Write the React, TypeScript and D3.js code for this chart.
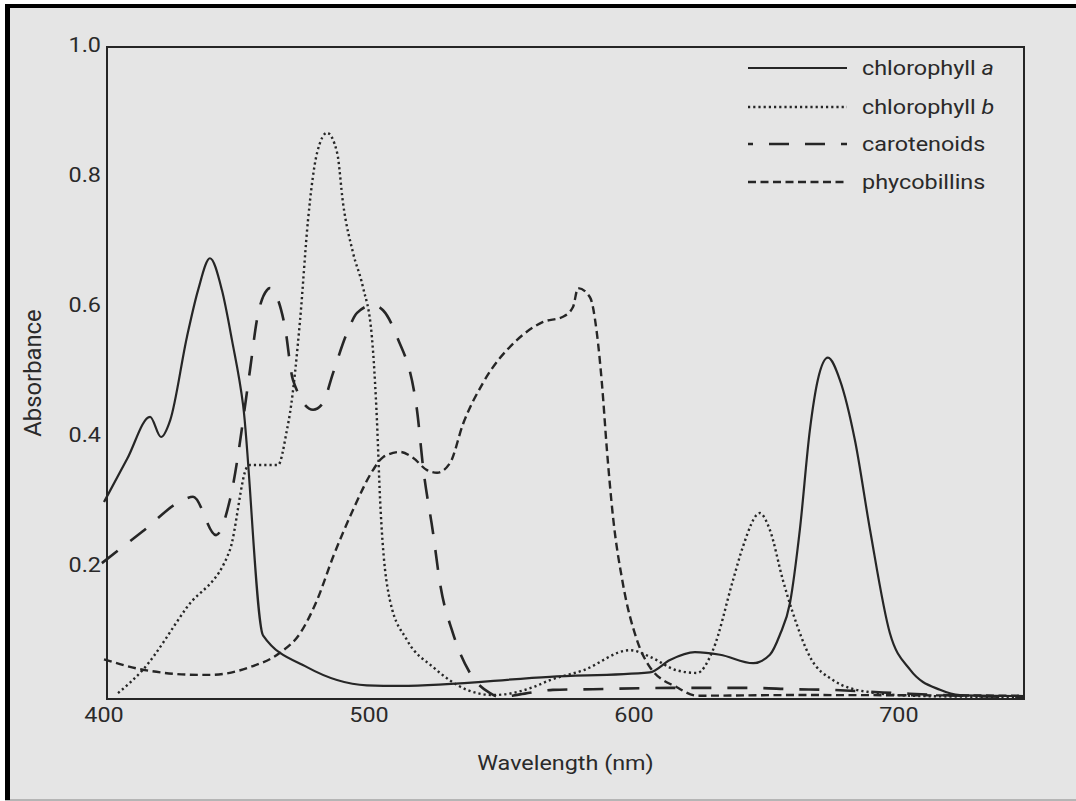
import React from "react";
import * as d3 from "d3";

// Absorption spectra: [wavelength (nm), absorbance]
const chlorophyllA: [number, number][] = [
  [400, 0.3], [408.7, 0.366], [417.4, 0.431], [421.5, 0.4], [425, 0.426], [431.3, 0.554], [435.5, 0.626],
  [440, 0.675], [444.5, 0.626], [448.3, 0.549], [452.5, 0.449], [460, 0.095], [476.6, 0.046],
  [499.2, 0.018], [511.7, 0.017], [568.3, 0.031], [606, 0.038], [613.6, 0.057], [623, 0.069],
  [632.5, 0.065], [645, 0.052], [651.3, 0.065], [655, 0.095], [658.9, 0.145], [662.6, 0.257],
  [666.4, 0.411], [669.4, 0.488], [673.2, 0.522], [677.7, 0.488], [683.4, 0.395], [689.1, 0.257],
  [696.6, 0.098], [704.2, 0.042], [715.5, 0.011], [723, 0.003], [747, 0.0015],
];

const chlorophyllB: [number, number][] = [
  [405.3, 0.006], [414.7, 0.042], [431.3, 0.138], [447.5, 0.226], [454, 0.354], [455.1, 0.357],
  [465.7, 0.357], [469, 0.41], [470.2, 0.437], [474, 0.58], [477, 0.734], [480.4, 0.837],
  [484.2, 0.868], [488, 0.837], [490.2, 0.76], [494, 0.683], [497.7, 0.631], [501.1, 0.554],
  [503, 0.426], [504.2, 0.303], [507.9, 0.149], [514.3, 0.088], [524.2, 0.046], [537, 0.011],
  [546.8, 0.003], [561.9, 0.015], [568.3, 0.026], [580.8, 0.041], [598.5, 0.072], [606, 0.062],
  [616.2, 0.041], [623.8, 0.037], [629.8, 0.072], [637.4, 0.18], [641.1, 0.231], [647.5, 0.283],
  [651.3, 0.257], [656.2, 0.18], [660, 0.129], [666.4, 0.062], [675.1, 0.026], [688, 0.008],
  [708, 0.0015], [747, 0],
];

const carotenoids: [number, number][] = [
  [399.2, 0.206], [414.5, 0.2545], [429.8, 0.303], [433.6, 0.308], [442.3, 0.249], [447.5, 0.303], [455.1, 0.503],
  [457.7, 0.58], [461.5, 0.626], [462.6, 0.629], [465.3, 0.615], [468.3, 0.569], [471.3, 0.488],
  [478.9, 0.442], [482.6, 0.452], [486.4, 0.498], [491.7, 0.56], [495.5, 0.591], [501.5, 0.603],
  [505.3, 0.595], [510.6, 0.554], [518.1, 0.442], [520.4, 0.354], [524.2, 0.252], [526.8, 0.175],
  [531.7, 0.098], [538.1, 0.037], [545.7, 0.006], [549.4, 0], [557, 0.004], [569.4, 0.011],
  [584.5, 0.012], [614.7, 0.014], [644.9, 0.014], [659.6, 0.012], [674, 0.011], [689, 0.008],
  [704, 0.005], [723, 0.002], [747, 0],
];

const phycobilins: [number, number][] = [
  [400, 0.058], [414.7, 0.042], [436.2, 0.034], [440, 0.034], [455.1, 0.046], [466.4, 0.068],
  [474, 0.098], [480.4, 0.149], [486.4, 0.215], [494, 0.288], [501.5, 0.349], [505.3, 0.369],
  [511.7, 0.377], [516.6, 0.368], [521.9, 0.349], [525.7, 0.345], [530.6, 0.36], [535.5, 0.42],
  [543, 0.483], [555.8, 0.549], [565.7, 0.577], [573.2, 0.585], [577, 0.6], [578.9, 0.629],
  [583.4, 0.615], [586, 0.56], [587.9, 0.483], [589.8, 0.38], [592.1, 0.277], [595.8, 0.175],
  [601.1, 0.088], [606, 0.046], [616.2, 0.015], [623.8, 0.002], [660, 0.003], [747, 0.002],
];

const xTicks = [400, 500, 600, 700];
const yTicks = [0.2, 0.4, 0.6, 0.8, 1.0];

const W = 1076;
const H = 801;
const frame = { left: 107, top: 47, right: 1024, bottom: 699 };
const ink = "#262626";
const textInk = "#2a2a2a";
const font = "Roboto, 'Noto Sans', sans-serif";
const stretch = 1.17;

export default function App() {
  const x = d3.scaleLinear().domain([400, 747.2]).range([104, frame.right]);
  const y = d3.scaleLinear().domain([0, 1]).range([697, 47]);
  const line = d3
    .line<[number, number]>()
    .x((d) => x(d[0]))
    .y((d) => y(d[1]))
    .curve(d3.curveMonotoneX);

  const series = [
    { label: "chlorophyll ", italic: "a", data: chlorophyllA, dash: undefined, width: 2.2 },
    { label: "chlorophyll ", italic: "b", data: chlorophyllB, dash: "2.2 3", width: 2.4 },
    { label: "carotenoids", italic: "", data: carotenoids, dash: "20 16", width: 2.6 },
    { label: "phycobillins", italic: "", data: phycobilins, dash: "8 4.5", width: 2.4 },
  ];
  const legendRows = [68, 107, 144, 182];

  return (
    <svg
      width={W}
      height={H}
      style={{ position: "absolute", left: 0, top: 0, display: "block" }}
      fontFamily={font}
    >
      <rect x={0} y={0} width={W} height={H} fill="#fff" />
      <rect x={5} y={4} width={W - 5} height={796} fill="#e5e5e5" />
      <rect x={5} y={799} width={W - 5} height={2} fill="#b5b5b5" />
      <rect x={5} y={4} width={W - 5} height={4} fill="#000" />
      <rect x={5} y={4} width={5} height={796} fill="#000" />

      {/* plot frame */}
      <rect
        x={frame.left}
        y={frame.top}
        width={frame.right - frame.left}
        height={frame.bottom - frame.top}
        fill="none"
        stroke={ink}
        strokeWidth={2}
      />

      {/* spectra */}
      {series.map((s, i) => (
        <path
          key={i}
          d={line(s.data) || ""}
          fill="none"
          stroke={ink}
          strokeWidth={s.width}
          strokeDasharray={s.dash}
          strokeLinejoin="round"
        />
      ))}

      {/* y tick labels */}
      {yTicks.map((t) => (
        <g key={t} transform={`translate(101,${y(t) - 2}) scale(${stretch},1)`}>
          <text textAnchor="end" dy="0.35em" fontSize={20} fill={textInk}>
            {t.toFixed(1)}
          </text>
        </g>
      ))}

      {/* x tick labels */}
      {xTicks.map((t) => (
        <g key={t} transform={`translate(${x(t)},715) scale(${stretch},1)`}>
          <text textAnchor="middle" dy="0.35em" fontSize={20} fill={textInk}>
            {t}
          </text>
        </g>
      ))}

      {/* axis titles */}
      <g transform={`translate(${(frame.left + frame.right) / 2},763) scale(${stretch},1)`}>
        <text textAnchor="middle" dy="0.35em" fontSize={20} fill={textInk}>
          Wavelength (nm)
        </text>
      </g>
      <g transform={`translate(33,${(frame.top + frame.bottom) / 2}) rotate(-90) scale(1.19,${stretch})`}>
        <text textAnchor="middle" dy="0.35em" fontSize={20} fill={textInk}>
          Absorbance
        </text>
      </g>

      {/* legend */}
      {series.map((s, i) => (
        <g key={i}>
          <line
            x1={748}
            x2={847}
            y1={legendRows[i]}
            y2={legendRows[i]}
            stroke={ink}
            strokeWidth={s.width}
            strokeDasharray={s.dash}
            strokeDashoffset={s.dash === "20 16" ? 15 : 0}
          />
          <g transform={`translate(862,${legendRows[i]}) scale(${stretch},1)`}>
            <text dy="0.35em" fontSize={20} fill={textInk}>
              {s.label}
              {s.italic && <tspan fontStyle="italic">{s.italic}</tspan>}
            </text>
          </g>
        </g>
      ))}
    </svg>
  );
}
